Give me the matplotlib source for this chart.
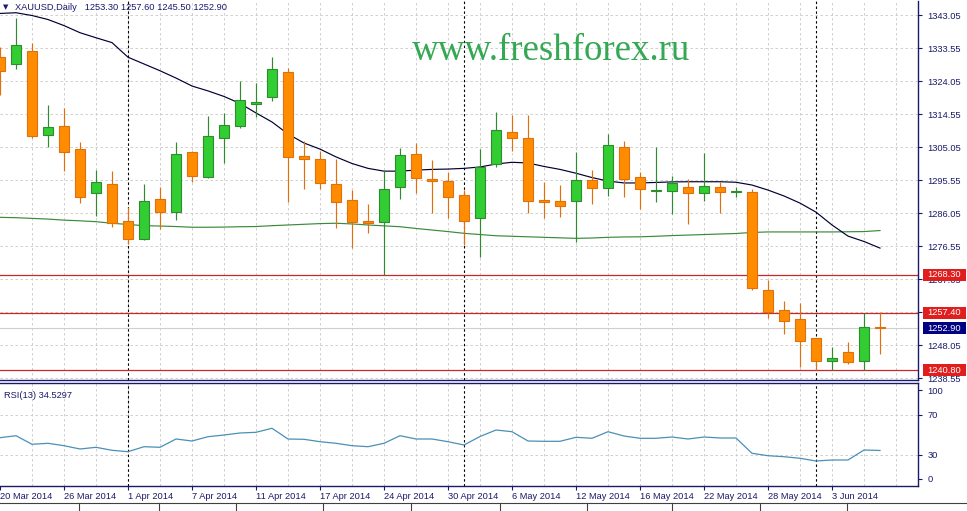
import matplotlib
matplotlib.use('Agg')
import matplotlib.pyplot as plt
from matplotlib.patches import Rectangle
from matplotlib.lines import Line2D
import matplotlib.transforms as mtransforms

# ---------------- data ----------------
dates = ['20 Mar 2014', '21 Mar 2014', '24 Mar 2014', '25 Mar 2014', '26 Mar 2014', '27 Mar 2014',
         '28 Mar 2014', '31 Mar 2014', '1 Apr 2014', '2 Apr 2014', '3 Apr 2014', '4 Apr 2014',
         '7 Apr 2014', '8 Apr 2014', '9 Apr 2014', '10 Apr 2014', '11 Apr 2014', '14 Apr 2014',
         '15 Apr 2014', '16 Apr 2014', '17 Apr 2014', '21 Apr 2014', '22 Apr 2014', '23 Apr 2014',
         '24 Apr 2014', '25 Apr 2014', '28 Apr 2014', '29 Apr 2014', '30 Apr 2014', '1 May 2014',
         '2 May 2014', '5 May 2014', '6 May 2014', '7 May 2014', '8 May 2014', '9 May 2014',
         '12 May 2014', '13 May 2014', '14 May 2014', '15 May 2014', '16 May 2014', '19 May 2014',
         '20 May 2014', '21 May 2014', '22 May 2014', '23 May 2014', '26 May 2014', '27 May 2014',
         '28 May 2014', '29 May 2014', '30 May 2014', '2 Jun 2014', '3 Jun 2014', '4 Jun 2014',
         '5 Jun 2014', '6 Jun 2014']

opens = [1330.9, 1328.85, 1332.7, 1308.6, 1311.1, 1304.5, 1291.7, 1294.4, 1283.7, 1278.5,
         1290.1, 1286.2, 1303.5, 1296.3, 1307.55, 1311.2, 1317.3, 1319.5, 1326.7, 1302.55,
         1301.5, 1294.4, 1289.8, 1283.75, 1283.35, 1293.45, 1303.0, 1295.6, 1295.25, 1291.15,
         1284.5, 1300.15, 1309.3, 1307.55, 1289.7, 1289.4, 1289.4, 1295.55, 1293.15, 1305.1,
         1296.3, 1292.3, 1292.45, 1293.45, 1291.7, 1293.45, 1292.1, 1292.0, 1263.9, 1258.1,
         1255.6, 1249.95, 1243.5, 1245.95, 1243.5, 1253.3]
highs = [1333.8, 1342.1, 1334.9, 1317.1, 1316.2, 1306.4, 1298.4, 1298.2, 1287.7, 1294.4,
         1293.6, 1306.4, 1303.8, 1314.05, 1314.75, 1324.1, 1323.55, 1331.05, 1327.7, 1306.85,
         1304.0, 1301.5, 1292.7, 1288.65, 1298.1, 1304.85, 1306.1, 1301.3, 1297.8, 1292.7,
         1304.4, 1315.1, 1314.25, 1314.25, 1295.05, 1294.0, 1303.6, 1298.4, 1308.7, 1306.8,
         1297.75, 1305.1, 1296.7, 1295.8, 1303.25, 1295.05, 1293.6, 1292.95, 1266.75, 1260.8,
         1260.05, 1250.1, 1247.4, 1248.8, 1257.4, 1257.6]
lows = [1320.0, 1327.5, 1307.55, 1305.15, 1298.2, 1288.8, 1285.25, 1282.1, 1277.1, 1278.3,
        1281.35, 1284.0, 1295.05, 1296.0, 1300.5, 1310.4, 1313.6, 1318.4, 1289.1, 1293.0,
        1292.9, 1281.65, 1275.9, 1280.4, 1268.3, 1290.0, 1291.7, 1285.95, 1284.7, 1276.75,
        1273.5, 1299.2, 1304.0, 1286.1, 1284.5, 1285.0, 1277.6, 1288.55, 1291.0, 1290.55,
        1287.2, 1289.1, 1285.7, 1282.9, 1289.6, 1286.1, 1290.55, 1263.9, 1255.7, 1251.1,
        1241.8, 1240.8, 1240.9, 1242.6, 1240.85, 1245.5]
closes = [1327.0, 1334.4, 1308.3, 1310.8, 1303.7, 1290.7, 1294.9, 1283.25, 1278.5, 1289.5,
          1286.2, 1303.0, 1296.8, 1308.2, 1311.3, 1318.6, 1317.9, 1327.5, 1302.1, 1301.6,
          1294.8, 1289.3, 1283.35, 1283.25, 1292.85, 1302.75, 1296.2, 1295.4, 1290.75, 1283.65,
          1299.2, 1309.85, 1307.55, 1289.4, 1289.1, 1288.15, 1295.55, 1293.15, 1305.65, 1295.75,
          1292.85, 1292.5, 1294.6, 1291.7, 1293.8, 1292.2, 1292.2, 1264.35, 1257.65, 1255.05,
          1249.3, 1243.5, 1244.4, 1243.25, 1253.15, 1252.9]

ma_fast = [1343.5, 1343.7, 1342.9, 1341.75, 1340.0, 1337.95, 1336.5, 1335.1, 1330.9, 1328.95,
           1327.0, 1324.9, 1322.6, 1321.2, 1319.6, 1317.6, 1314.85, 1312.25, 1308.8, 1306.2,
           1304.45, 1302.2, 1300.3, 1298.9, 1298.1, 1298.1, 1298.4, 1298.6, 1298.7, 1298.9,
           1299.3, 1300.15, 1300.65, 1300.45, 1299.45, 1298.6, 1297.5, 1296.25, 1295.25, 1294.7,
           1294.7, 1294.85, 1295.0, 1295.05, 1295.05, 1295.05, 1294.9, 1294.1, 1292.65, 1290.95,
           1288.9, 1286.3, 1282.6, 1279.4, 1277.85, 1275.95]
ma_slow = [1284.8, 1284.7, 1284.5, 1284.3, 1284.0, 1283.8, 1283.55, 1283.1, 1282.75, 1282.4,
           1282.3, 1282.15, 1281.95, 1281.95, 1282.0, 1282.1, 1282.15, 1282.4, 1282.6, 1282.8,
           1283.0, 1283.1, 1282.9, 1282.6, 1282.35, 1282.1, 1281.6, 1281.15, 1280.7, 1280.2,
           1279.85, 1279.5, 1279.35, 1279.2, 1279.05, 1278.9, 1278.75, 1278.85, 1279.05, 1279.15,
           1279.2, 1279.35, 1279.55, 1279.7, 1279.85, 1280.0, 1280.15, 1280.45, 1280.6, 1280.6,
           1280.6, 1280.6, 1280.6, 1280.65, 1280.7, 1281.0]
rsi = [47.3, 49.3, 40.7, 41.7, 39.3, 36.0, 37.7, 34.7, 33.3, 38.3,
       37.7, 46.0, 44.0, 48.3, 50.0, 52.0, 52.7, 56.7, 46.0, 45.7,
       43.3, 41.7, 39.3, 38.3, 41.7, 49.3, 46.0, 46.0, 43.3, 40.0,
       48.5, 55.0, 53.3, 44.0, 43.7, 43.7, 47.7, 46.7, 53.3, 49.0,
       46.7, 46.7, 48.0, 46.0, 48.0, 47.0, 47.0, 31.7, 29.3, 28.3,
       26.7, 24.0, 25.0, 25.0, 35.0, 34.53]

levels = [1268.30, 1257.40, 1240.80]
bid = 1252.90
price_ticks = [1343.05, 1333.55, 1324.05, 1314.55, 1305.05, 1295.55, 1286.05, 1276.55,
               1267.05, 1257.55, 1248.05, 1238.55]
rsi_levels = [70, 30]
rsi_tick_labels = ['100', '70', '30', '0']
date_labels = ['20 Mar 2014', '26 Mar 2014', '1 Apr 2014', '7 Apr 2014', '11 Apr 2014',
               '17 Apr 2014', '24 Apr 2014', '30 Apr 2014', '6 May 2014', '12 May 2014',
               '16 May 2014', '22 May 2014', '28 May 2014', '3 Jun 2014']
month_starts = ['1 Apr 2014', '1 May 2014', '2 Jun 2014']
header = 'XAUUSD,Daily   1253.30 1257.60 1245.50 1252.90'
rsi_title = 'RSI(13) 34.5297'
watermark = 'www.freshforex.ru'

# ---------------- style ----------------
W, H = 967, 511
NAVY = '#1a1a6a'
GRID = '#c8c8c8'
FONT = ['Liberation Sans', 'DejaVu Sans']
FS = 6.7
BULL, BULL_E = '#32cd32', '#2e8b2e'
BEAR, BEAR_E = '#ff8c00', '#e0700c'


def fx(px):
    return px / W


def fy(px):
    return 1 - px / H


fig = plt.figure(figsize=(W / 100, H / 100), dpi=100, facecolor='white')
ax = fig.add_axes([0, fy(380), fx(918), (380 - 1) / H])
axr = fig.add_axes([0, fy(486), fx(918), (486 - 382.5) / H])

n = len(dates)
xs = list(range(n))
xmax = 918 / 16.0
for a in (ax, axr):
    a.set_xlim(0, xmax)
    a.set_facecolor('white')
    a.spines['left'].set_visible(False)
    for s in ('right', 'bottom', 'top'):
        a.spines[s].set_color(NAVY)
        a.spines[s].set_linewidth(1.0)
ax.spines['top'].set_visible(False)

p_top = 1343.05 + 14 / 3.4737
p_bot = 1343.05 - 365 / 3.4737
ax.set_ylim(p_bot, p_top)
axr.set_ylim(-1, 102.5)

# grid
grid_x = [i for i in range(2, int(xmax) + 1, 2)]
for a in (ax, axr):
    for gx in grid_x:
        a.axvline(gx, color=GRID, lw=0.6, ls=(0, (3, 3)), zorder=0)
for p in price_ticks:
    ax.axhline(p, color=GRID, lw=0.6, ls=(0, (3, 3)), zorder=0)
for lv in rsi_levels:
    axr.axhline(lv, color=GRID, lw=0.6, ls=(0, (3, 3)), zorder=0)
for m in month_starts:
    mi = dates.index(m)
    for a in (ax, axr):
        a.axvline(mi, color='black', lw=0.8, ls=(0, (2.2, 2.2)), zorder=1)

# levels
for lv in levels:
    ax.axhline(lv, color='#c82828', lw=0.9, zorder=2)
ax.axhline(bid, color='#cfcfcf', lw=0.8, zorder=1.5)

# moving averages
ax.plot(xs, ma_slow, color='#3a8a3a', lw=0.85, zorder=2)
ax.plot(xs, ma_fast, color='#000033', lw=0.85, zorder=2)

# candles
bw = 0.6
for i in xs:
    o, h, l, c = opens[i], highs[i], lows[i], closes[i]
    bull = c >= o
    fc, ec = (BULL, BULL_E) if bull else (BEAR, BEAR_E)
    ax.vlines(i, l, h, color=ec, lw=0.85, zorder=3)
    lo = min(o, c)
    hgt = max(abs(c - o), 0.35)
    ax.bar(i, hgt, bottom=lo, width=bw, color=fc, edgecolor=ec, linewidth=0.8, zorder=4)

# RSI
axr.plot(xs, rsi, color='#4a8fb8', lw=0.9, zorder=3)
axr.text(4 / 918, 0.875, rsi_title, transform=axr.transAxes, fontsize=FS, family=FONT,
         color=NAVY, va='center', ha='left')

# axes ticks
ax.yaxis.tick_right()
ax.set_yticks(price_ticks)
ax.set_yticklabels(['%.2f' % p for p in price_ticks])
ax.tick_params(axis='y', direction='out', length=3, width=0.8, color=NAVY, pad=4,
               labelsize=FS, labelcolor=NAVY)
ax.set_xticks([])
for lbl in ax.get_yticklabels():
    lbl.set_family(FONT)

axr.yaxis.tick_right()
axr.set_yticks([95, 70, 30, 6])
axr.set_yticklabels(rsi_tick_labels)
axr.tick_params(axis='y', direction='out', length=3, width=0.8, color=NAVY, pad=4,
                labelsize=FS, labelcolor=NAVY)
for lbl in axr.get_yticklabels():
    lbl.set_family(FONT)

date_pos = [dates.index(d) for d in date_labels]
axr.set_xticks(date_pos)
axr.set_xticklabels(date_labels)
axr.tick_params(axis='x', direction='out', length=3, width=0.8, color=NAVY, pad=1,
                labelsize=FS, labelcolor=NAVY)
for lbl in axr.get_xticklabels():
    lbl.set_ha('left')
    lbl.set_family(FONT)

# price label boxes
blend = mtransforms.blended_transform_factory(fig.transFigure, ax.transData)
box_h = 12 / 3.4737
for lv, col in [(levels[0], '#e01e1e'), (levels[1], '#e01e1e'), (bid, '#000080'), (levels[2], '#e01e1e')]:
    r = Rectangle((fx(923), lv - box_h / 2), fx(966) - fx(923), box_h, transform=blend,
                  facecolor=col, edgecolor='none', clip_on=False, zorder=10)
    ax.add_artist(r)
    ax.text(fx(944.5), lv, '%.2f' % lv, transform=blend, ha='center', va='center',
            fontsize=FS, family=FONT, color='white', clip_on=False, zorder=11)

# header
fig.text(fx(2.5), fy(7.5), '\u25bc', fontsize=5, family=['DejaVu Sans'], color=NAVY,
         ha='left', va='center')
fig.text(fx(15), fy(7.5), header, fontsize=FS, family=FONT, color=NAVY, ha='left', va='center')

# watermark
fig.text(fx(412), fy(60), watermark, fontsize=26.6, family=['Liberation Serif', 'DejaVu Serif'],
         color='#35a853', ha='left', va='baseline')

# bottom tab strip
fig.add_artist(Line2D([0, 1], [fy(503), fy(503)], transform=fig.transFigure, color='#404040', lw=0.8))
for sx in [79, 159, 236, 323, 411, 500, 587, 672, 760, 847]:
    fig.add_artist(Line2D([fx(sx), fx(sx)], [fy(503), 0], transform=fig.transFigure,
                          color='#404040', lw=0.8))

fig.savefig('out.png', dpi=100, facecolor='white')
